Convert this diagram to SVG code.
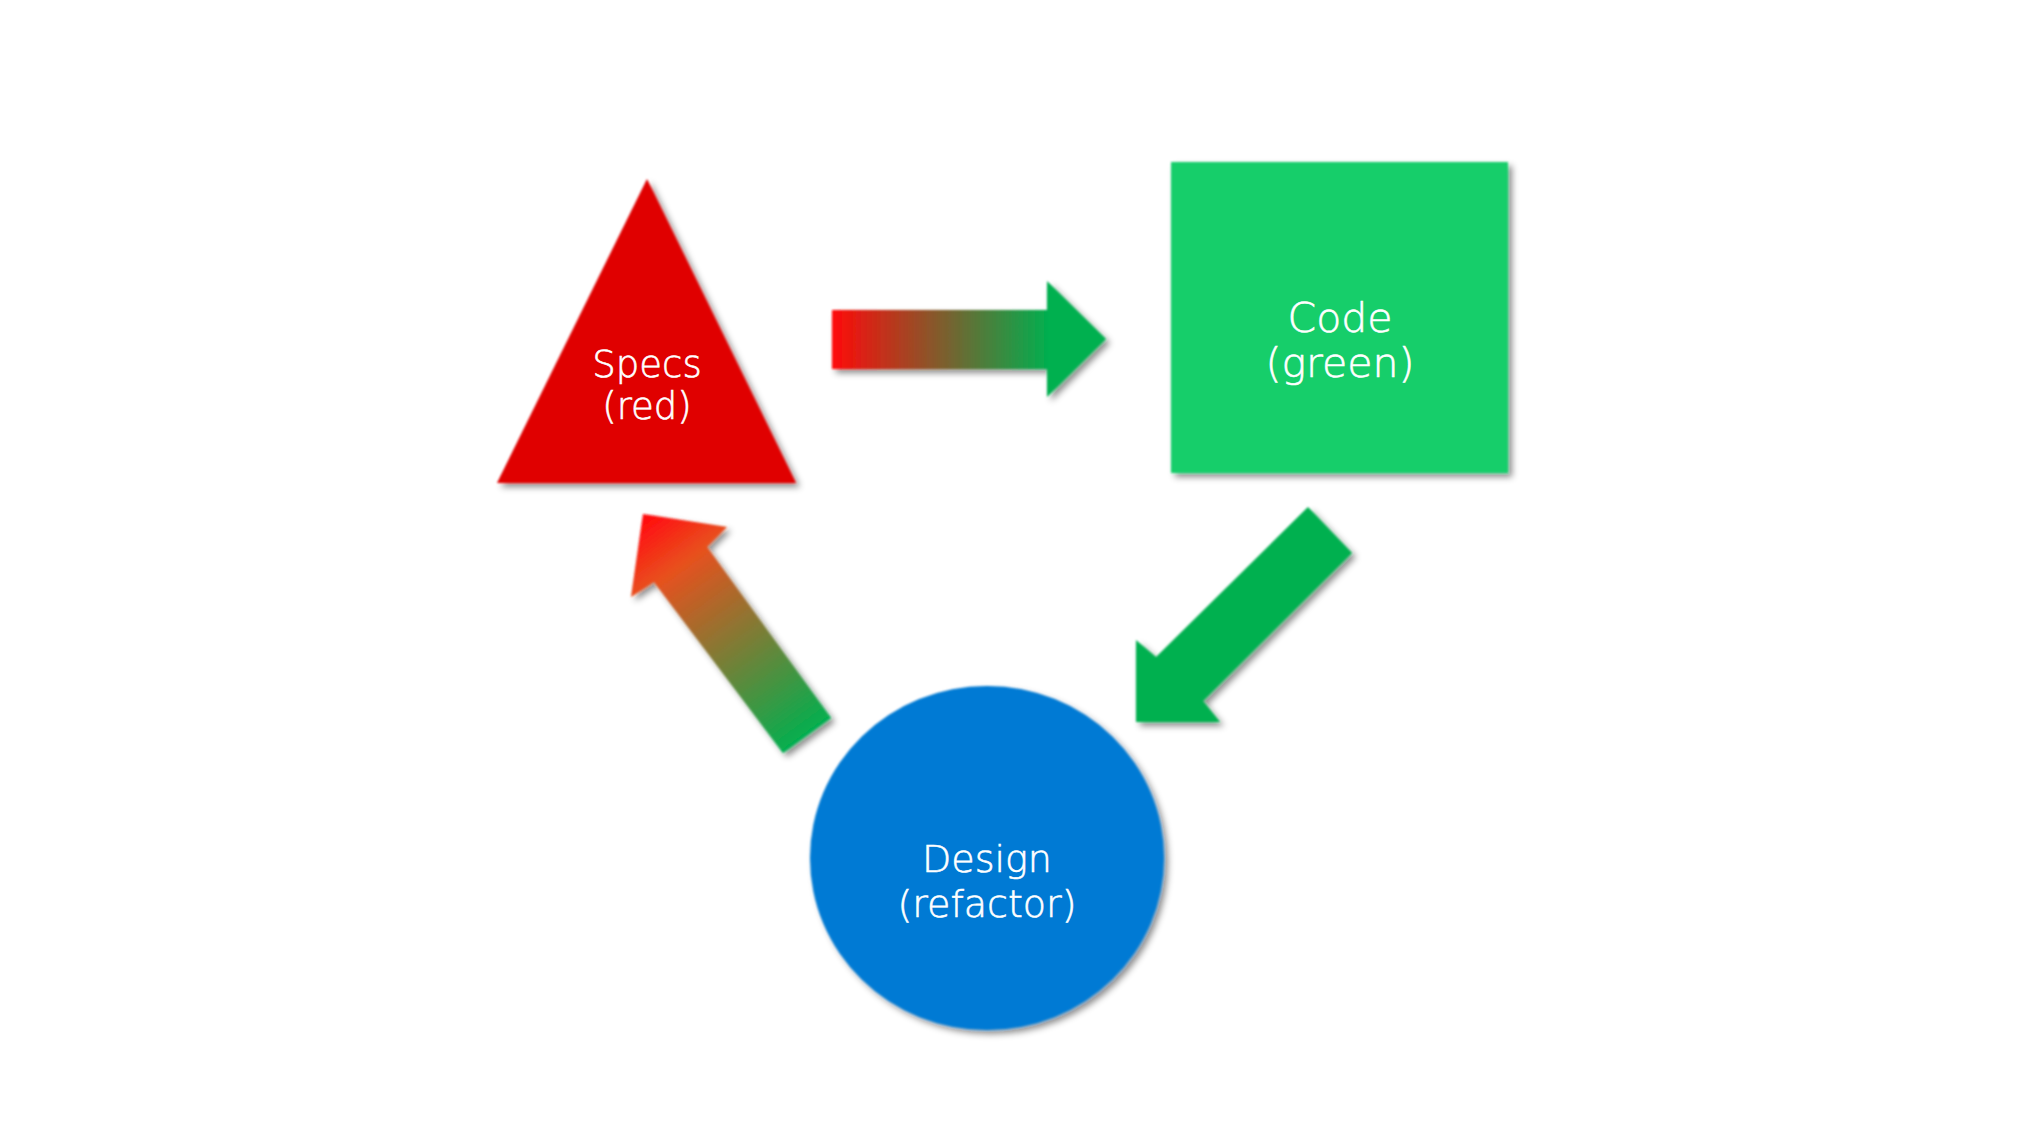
<svg xmlns="http://www.w3.org/2000/svg" width="2040" height="1140" viewBox="0 0 2040 1140">
<style>
.lbl{font-family:"Century Gothic","DejaVu Sans","Liberation Sans",sans-serif;fill:#ffffff;stroke:#ffffff;stroke-width:0.6;text-anchor:middle;font-weight:200}
</style>
<defs>
<filter id="sh" x="-20%" y="-20%" width="140%" height="140%">
<feGaussianBlur in="SourceGraphic" stdDeviation="0.8" result="s"/>
<feDropShadow in="s" dx="4" dy="4" stdDeviation="3" flood-color="#000" flood-opacity="0.45"/>
</filter>
<linearGradient id="g1" gradientUnits="userSpaceOnUse" x1="832" y1="0" x2="1050" y2="0">
<stop offset="0" stop-color="#FF0A0A"/>
<stop offset="1" stop-color="#00B050"/>
</linearGradient>
<linearGradient id="g3" gradientUnits="userSpaceOnUse" x1="650" y1="520" x2="808" y2="738">
<stop offset="0" stop-color="#FF1010"/>
<stop offset="0.2" stop-color="#E8501E"/>
<stop offset="1" stop-color="#00B050"/>
</linearGradient>
</defs>
<rect width="2040" height="1140" fill="#ffffff"/>
<g id="connectors" filter="url(#sh)">
<polygon id="arrow-specs-code" fill="url(#g1)" points="832,310 1047,310 1047,281 1106,339 1047,397 1047,369 832,369"/>
<polygon id="arrow-code-design" fill="#00B050" points="1308,507 1352,553 1203,701 1220,722 1136,722 1136,640 1156,657"/>
<polygon id="arrow-design-specs" fill="url(#g3)" points="643,514 727,527 707,547 831,718 783,753 654,582 631,597"/>
</g>
<g id="specs">
<polygon filter="url(#sh)" fill="#E00000" points="647,179 796,483 497,483"/>
<text class="lbl" font-size="37" x="647" y="377">Specs</text>
<text class="lbl" font-size="37" x="647" y="419">(red)</text>
</g>
<g id="code">
<rect filter="url(#sh)" fill="#17CE6A" x="1171" y="162" width="337" height="311"/>
<text class="lbl" font-size="41" x="1340" y="332">Code</text>
<text class="lbl" font-size="41" x="1340" y="377">(green)</text>
</g>
<g id="design">
<ellipse filter="url(#sh)" fill="#007AD4" cx="987" cy="858" rx="177" ry="172"/>
<text class="lbl" font-size="38" x="987" y="872">Design</text>
<text class="lbl" font-size="38" x="987" y="917">(refactor)</text>
</g>
</svg>
